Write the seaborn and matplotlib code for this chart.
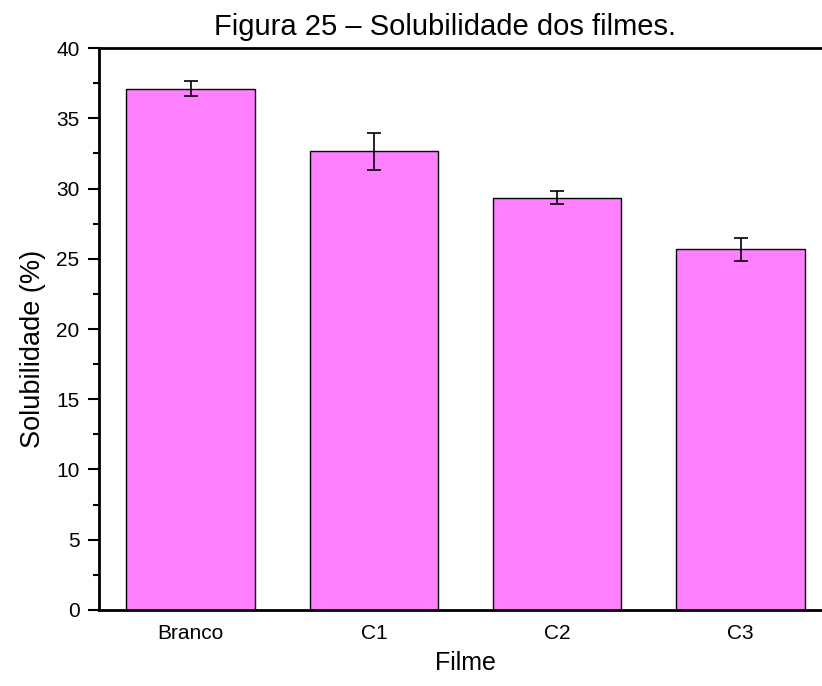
import matplotlib
matplotlib.use('Agg')
import matplotlib.pyplot as plt
from matplotlib.ticker import MultipleLocator
import seaborn as sns
import pandas as pd

# dados
filmes = ['Branco', 'C1', 'C2', 'C3']
solubilidade = [37.1, 32.65, 29.35, 25.68]
desvio = [0.55, 1.33, 0.45, 0.82]

sns.set_style('ticks')
plt.rcParams['font.family'] = ['Liberation Sans', 'DejaVu Sans']
plt.rcParams['text.color'] = 'black'
plt.rcParams['axes.labelcolor'] = 'black'
plt.rcParams['xtick.color'] = 'black'
plt.rcParams['ytick.color'] = 'black'
plt.rcParams['axes.edgecolor'] = 'black'

df = pd.DataFrame({'Filme': filmes, 'Solubilidade': solubilidade})

fig = plt.figure(figsize=(8.22, 6.86), dpi=100)
ax = fig.add_axes([0.1204, 0.1108, 0.892, 0.8192])

sns.barplot(data=df, x='Filme', y='Solubilidade', color='#FF80FF', saturation=1,
            width=0.7, edgecolor='black', linewidth=1, errorbar=None, ax=ax)
ax.errorbar(range(len(filmes)), solubilidade, yerr=desvio, fmt='none',
            ecolor='black', elinewidth=1.2, capsize=5, capthick=1.2)

ax.set_xlim(-0.5, 3.5)
ax.set_ylim(0, 40)
ax.yaxis.set_major_locator(MultipleLocator(5))
ax.yaxis.set_minor_locator(MultipleLocator(2.5))
ax.tick_params(axis='y', which='major', length=8, width=1.5, labelsize=15, direction='out', pad=6)
ax.tick_params(axis='y', which='minor', length=4, width=1.5, direction='out')
ax.tick_params(axis='x', length=0, labelsize=15, pad=10)
for s in ['left', 'bottom', 'top', 'right']:
    ax.spines[s].set_linewidth(2)
    ax.spines[s].set_visible(True)

ax.set_xlabel('Filme', fontsize=18, labelpad=6)
ax.set_ylabel('Solubilidade (%)', fontsize=19.5)
ax.yaxis.set_label_coords(-0.072, 0.465)
fig.text(0.541, 1 - 35 / 686, 'Figura 25 \u2013 Solubilidade dos filmes.',
         fontsize=21, ha='center', va='baseline')

fig.savefig('out.png', dpi=100)
